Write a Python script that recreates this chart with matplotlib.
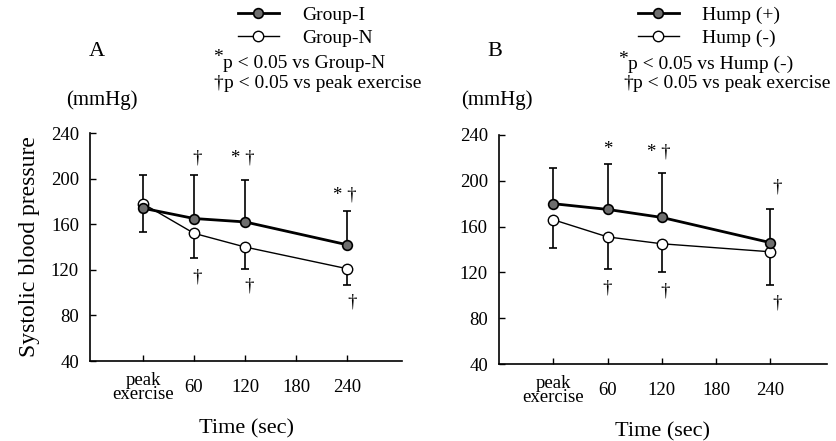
import matplotlib
matplotlib.use("Agg")
import matplotlib.pyplot as plt

plt.rcParams["font.family"] = ["Liberation Serif", "DejaVu Serif"]

TIME_LABELS = ["peak\nexercise", "60", "120", "180", "240"]
TIME_POS = [0, 1, 2, 3, 4]
SAMPLE_POS = [0, 1, 2, 4]
Y_TICKS = [40, 80, 120, 160, 200, 240]

# Panel A: Group-I vs Group-N (mean, SD)
GROUP_I_MEAN = [174, 165, 162, 142]
GROUP_I_SD = [29, 38, 37, 30]
GROUP_N_MEAN = [178, 152, 140, 121]
GROUP_N_SD = [25, 22, 19, 14]

# Panel B: Hump (+) vs Hump (-) (mean, SD)
HUMP_POS_MEAN = [180, 175, 168, 146]
HUMP_POS_SD = [31, 40, 39, 29]
HUMP_NEG_MEAN = [166, 151, 145, 138]
HUMP_NEG_SD = [25, 28, 25, 29]

# significance marks (x, y, text)
A_MARKS = [(1.06, 218, "†"), (1.06, 114, "†"), (1.96, 218, "* †"),
           (2.08, 106, "†"), (3.95, 186, "* †"), (4.11, 92, "†")]
B_MARKS = [(1.0, 227, "*"), (1.0, 106, "†"), (1.95, 225, "* †"),
           (2.06, 104, "†"), (4.12, 195, "†"), (4.12, 93, "†")]

NOTE_SIZE = 14


def draw_panel(ax, hi_mean, hi_sd, lo_mean, lo_sd, marks, xlim):
    zeros = [0] * len(hi_sd)
    ax.errorbar(SAMPLE_POS, hi_mean, yerr=[zeros, hi_sd], fmt="none",
                ecolor="black", elinewidth=1.2, capsize=3, capthick=1.2, zorder=2)
    ax.errorbar(SAMPLE_POS, lo_mean, yerr=[lo_sd, zeros], fmt="none",
                ecolor="black", elinewidth=1.2, capsize=3, capthick=1.2, zorder=2)
    lo_line, = ax.plot(SAMPLE_POS, lo_mean, "-o", color="black", lw=1.0,
                       ms=7.5, mfc="white", mec="black", mew=1.0, zorder=3)
    hi_line, = ax.plot(SAMPLE_POS, hi_mean, "-o", color="black", lw=2.0,
                       ms=7, mfc="#6e6e6e", mec="black", mew=1.2, zorder=4)

    for x, y, txt in marks:
        ax.text(x, y, txt, ha="center", va="center", fontsize=13.5)

    ax.set_xlim(*xlim)
    ax.set_ylim(40, 240)
    ax.set_yticks(Y_TICKS)
    ax.set_xticks(TIME_POS)
    ax.set_xticklabels(TIME_LABELS, va="center", linespacing=0.75, fontsize=13.5)
    ax.tick_params(axis="x", direction="in", length=4, width=1.0, pad=19)
    ax.tick_params(axis="y", direction="in", length=4, width=1.0, pad=8,
                   labelsize=13.5)
    for side in ("top", "right"):
        ax.spines[side].set_visible(False)
    for side in ("left", "bottom"):
        ax.spines[side].set_linewidth(1.2)
    ax.set_xlabel("Time (sec)", fontsize=16, labelpad=12)
    return hi_line, lo_line


fig = plt.figure(figsize=(8.36, 4.41), dpi=100)
ax_a = fig.add_axes([0.1077, 0.1814, 0.3732, 0.517])
ax_b = fig.add_axes([0.5969, 0.1746, 0.3921, 0.5193])

hi_a, lo_a = draw_panel(ax_a, GROUP_I_MEAN, GROUP_I_SD, GROUP_N_MEAN, GROUP_N_SD,
                        A_MARKS, (-1.04, 5.08))
hi_b, lo_b = draw_panel(ax_b, HUMP_POS_MEAN, HUMP_POS_SD, HUMP_NEG_MEAN, HUMP_NEG_SD,
                        B_MARKS, (-1.0, 5.04))

ax_a.set_ylabel("Systolic blood pressure", fontsize=17, labelpad=8)

# panel letters and units
fig.text(97 / 836, 1 - 51 / 441, "A", fontsize=16, ha="center", va="center")
fig.text(495 / 836, 1 - 51 / 441, "B", fontsize=16, ha="center", va="center")
fig.text(102 / 836, 1 - 100 / 441, "(mmHg)", fontsize=15, ha="center", va="center")
fig.text(497 / 836, 1 - 100 / 441, "(mmHg)", fontsize=15, ha="center", va="center")

# legends
leg_kw = dict(loc="upper left", frameon=False, fontsize=NOTE_SIZE, handlelength=2.1,
              handletextpad=1.2, labelspacing=0.3, borderpad=0, borderaxespad=0,
              bbox_transform=fig.transFigure)
ax_a.legend([hi_a, lo_a], ["Group-I", "Group-N"],
            bbox_to_anchor=(238 / 836, 1 - 6 / 441), **leg_kw)
ax_b.legend([hi_b, lo_b], ["Hump (+)", "Hump (-)"],
            bbox_to_anchor=(638 / 836, 1 - 6 / 441), **leg_kw)

fig.text(213 / 836, 1 - 58 / 441, "*", fontsize=NOTE_SIZE, ha="left", va="center")
fig.text(223 / 836, 1 - 63 / 441, "p < 0.05 vs Group-N", fontsize=NOTE_SIZE,
         ha="left", va="center")
fig.text(213 / 836, 1 - 83 / 441, "†", fontsize=NOTE_SIZE, ha="left", va="center")
fig.text(224 / 836, 1 - 83 / 441, "p < 0.05 vs peak exercise", fontsize=NOTE_SIZE,
         ha="left", va="center")

fig.text(618 / 836, 1 - 59 / 441, "*", fontsize=NOTE_SIZE, ha="left", va="center")
fig.text(628 / 836, 1 - 64 / 441, "p < 0.05 vs Hump (-)", fontsize=NOTE_SIZE,
         ha="left", va="center")
fig.text(623 / 836, 1 - 83 / 441, "†", fontsize=NOTE_SIZE, ha="left", va="center")
fig.text(633 / 836, 1 - 83 / 441, "p < 0.05 vs peak exercise", fontsize=NOTE_SIZE,
         ha="left", va="center")

fig.savefig("out.png", dpi=100)
